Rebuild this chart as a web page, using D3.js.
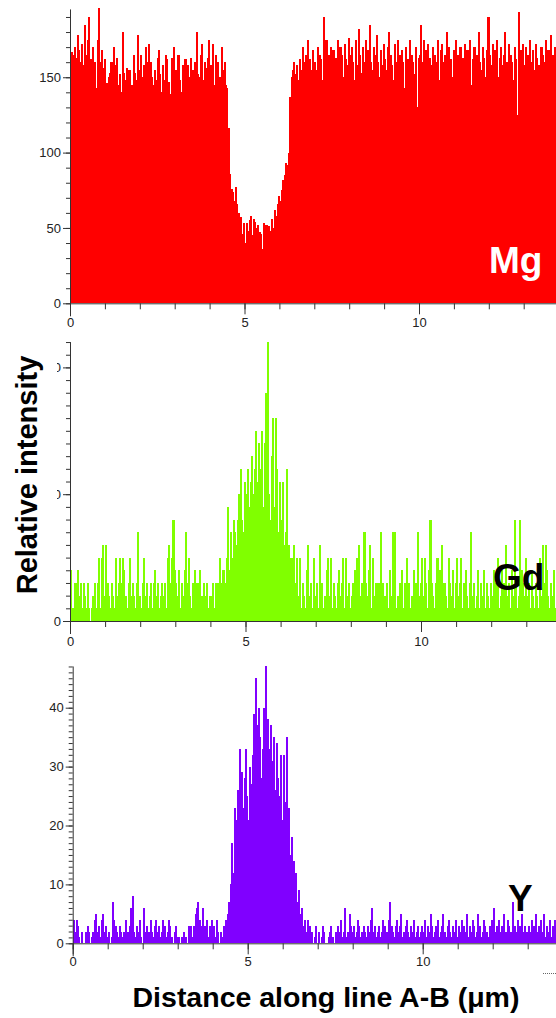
<!DOCTYPE html>
<html>
<head>
<meta charset="utf-8">
<script src="https://cdn.jsdelivr.net/npm/d3@7"></script>
<style>
  body { margin: 0; background: #fff; }
  svg { display: block; font-family: Arial, "Liberation Sans", sans-serif; }
  .tick text { fill: #222; font-size: 13px; }
  .tick line, .domain { stroke: #333; }
</style>
</head>
<body>
<div id="chart"></div>
<script>
// distance step between readings (um)
const step = 0.04;

// Mg counts, 25 readings per um
const mgValues = [
  148,167,165,170,163,178,168,160,172,158,185,165,175,190,162,155,170,160,143,175,196,160,168,156,162,
  142,146,150,153,160,148,170,158,163,145,152,140,180,153,148,156,155,155,138,145,165,153,148,178,155,
  165,150,158,147,170,160,172,160,150,145,155,148,163,168,152,140,158,148,165,162,147,139,163,160,170,
  155,150,165,148,140,158,153,162,156,158,150,163,155,148,160,180,152,150,165,172,148,160,156,163,175,
  158,150,172,145,165,160,133,150,170,155,160,145,143,116,86,76,74,68,77,66,60,55,57,46,53,
  40,53,48,55,58,45,56,54,50,52,47,46,36,53,49,52,50,51,48,56,50,62,58,66,71,
  68,75,82,85,93,92,100,137,150,155,160,152,158,148,162,155,170,160,165,118,175,162,155,168,158,
  160,155,170,165,162,148,190,160,175,158,165,170,150,168,160,163,175,155,170,165,150,172,162,158,176,
  165,170,160,148,175,158,182,165,153,170,160,175,142,168,185,160,155,170,165,178,160,150,168,158,172,
  162,155,170,180,165,158,148,172,160,175,155,165,168,160,143,170,162,158,175,165,160,152,170,130,163,
  165,185,160,175,168,150,172,163,158,170,155,165,160,175,148,168,172,160,165,180,158,170,162,150,168,
  160,175,165,158,170,148,163,172,155,168,160,175,145,162,170,158,165,180,160,155,170,163,150,168,190,
  165,158,172,160,168,175,150,163,170,158,165,180,160,155,172,165,160,148,170,162,125,193,168,160,172,
  158,170,165,150,175,160,168,155,172,163,158,140,170,165,160,175,152,168,160,178,165,155,170,162,160
];

// Gd counts
const gdValues = [
  4,1,1,3,3,4,2,3,1,3,2,1,3,1,0,1,2,3,1,3,5,1,5,6,2,
  6,3,2,1,3,2,1,5,2,3,5,3,5,4,2,1,3,5,2,3,2,1,3,7,2,
  1,3,5,2,3,1,2,3,1,3,4,2,3,1,2,3,2,3,1,5,6,3,5,8,4,
  3,2,4,1,3,2,4,7,3,5,2,1,3,4,2,3,3,4,2,1,3,2,3,1,2,
  2,3,1,3,2,3,5,3,4,4,3,5,9,4,7,5,8,7,6,8,10,12,8,7,11,
  10,12,9,11,13,10,12,15,11,14,12,15,9,14,18,22,10,8,13,16,9,16,12,7,11,
  8,11,6,7,12,6,2,5,1,6,3,5,2,5,1,3,2,1,4,6,2,3,1,5,2,
  3,1,6,2,3,1,2,4,5,2,5,1,3,2,1,3,4,2,3,5,1,5,2,3,1,
  2,3,4,1,5,6,2,3,1,7,3,2,4,6,1,5,2,3,1,3,2,7,3,1,2,
  3,1,4,2,7,3,7,1,2,3,2,4,1,3,5,2,3,1,2,4,1,3,7,2,3,
  5,2,5,3,1,4,8,3,2,1,3,5,2,4,6,1,3,2,1,5,3,2,4,1,3,
  5,2,3,5,1,3,4,2,1,3,7,2,3,1,2,4,1,3,2,4,1,3,2,1,3,
  2,4,1,3,5,1,2,4,3,1,6,2,3,1,4,2,8,3,1,2,8,4,3,2,5,
  2,3,1,4,2,1,3,2,1,5,2,6,3,6,4,2,1,3,2,4,1,3,2,1,2
];

// Y counts
const yValues = [
  4,2,4,3,1,0,2,0,0,2,3,2,0,1,2,4,5,2,3,1,4,5,2,3,1,
  2,0,1,7,4,3,2,1,3,2,1,2,4,1,2,3,6,8,2,1,3,2,4,1,0,
  6,2,3,1,2,4,2,1,3,4,2,3,1,2,4,3,1,2,4,3,1,0,2,3,1,
  1,0,1,1,2,1,0,3,2,3,1,3,5,6,7,4,3,6,2,3,4,1,3,2,4,
  3,1,4,2,0,2,1,3,2,4,5,7,10,17,12,23,21,26,22,33,29,23,28,33,25,
  21,30,27,32,39,45,37,40,35,28,33,40,47,33,38,33,37,31,35,26,34,28,25,32,21,
  32,24,35,20,23,15,18,14,10,12,7,9,5,6,3,4,2,4,1,3,2,0,1,3,0,
  2,0,1,3,2,0,0,1,2,3,1,0,2,1,3,2,4,1,2,6,1,2,5,3,2,
  3,1,2,4,3,1,2,3,2,1,3,2,4,6,2,3,1,2,3,1,2,4,3,1,2,
  4,7,3,2,1,3,4,2,3,5,1,2,3,4,2,1,3,2,4,1,2,3,1,2,3,
  2,4,1,3,2,5,3,1,2,3,4,1,2,3,5,2,1,3,4,2,1,3,2,4,1,
  3,2,4,1,3,2,5,1,3,2,4,3,1,2,5,3,1,2,4,3,2,1,3,2,4,
  6,2,3,1,4,2,3,5,1,2,4,3,2,1,7,3,2,4,1,3,5,2,3,1,2,
  3,2,4,1,3,5,2,3,1,4,2,5,1,3,2,4,1,3,2,4,1,2,3,1,2
];

const xLabelTicks = [0, 5, 10];
const xMinorTicks = [0, 1, 2, 3, 4, 5, 6, 7, 8, 9, 10, 11, 12, 13, 14];
const mgYTicks = [0, 50, 100, 150];
const gdYTicks = [0, 10, 20];
const yYTicks = [0, 10, 20, 30, 40];

const W = 556, H = 1018;
const svg = d3.select("#chart").append("svg")
    .attr("width", W)
    .attr("height", H);

const panels = [
    { id: "mg", values: mgValues, color: "#ff0000", name: "Mg", nameColor: "#ffffff", nameX: 489, nameY: 273,
      x0: 70, unit: 34.9, y0: 303.3, yMax: 195, yPx: 1.507, yTicks: mgYTicks, yMinor: 10,
      labelY: 327, clipTop: 0, clipBottom: 329 },
    { id: "gd", values: gdValues, color: "#80ff00", name: "Gd", nameColor: "#000000", nameX: 493, nameY: 590,
      x0: 70, unit: 35.1, y0: 621, yMax: 22, yPx: 12.68, yTicks: gdYTicks, yMinor: 1,
      labelY: 646, clipTop: 330, clipBottom: 660 },
    { id: "y", values: yValues, color: "#8000ff", name: "Y", nameColor: "#000000", nameX: 508, nameY: 911,
      x0: 72.7, unit: 35, y0: 943.3, yMax: 47, yPx: 5.89, yTicks: yYTicks, yMinor: 1,
      labelY: 966, clipTop: 660, clipBottom: 1018 }
];

panels.forEach(p => {
    const x = d3.scaleLinear().domain([0, 14]).range([p.x0, p.x0 + 14 * p.unit]);
    const y = d3.scaleLinear().domain([0, p.yMax]).range([p.y0, p.y0 - p.yMax * p.yPx]);
    const bw = x(step) - x(0);

    svg.append("clipPath").attr("id", "clip-" + p.id)
        .append("rect")
        .attr("x", 0).attr("y", p.clipTop)
        .attr("width", W).attr("height", p.clipBottom - p.clipTop);
    svg.append("clipPath").attr("id", "plot-" + p.id)
        .append("rect")
        .attr("x", p.x0).attr("y", y(p.yMax) - 2)
        .attr("width", W - p.x0).attr("height", p.y0 - y(p.yMax) + 2);

    const g = svg.append("g").attr("clip-path", `url(#clip-${p.id})`);

    // bars, pixel-snapped and slightly overlapped so no hairline gaps show
    g.append("g").attr("clip-path", `url(#plot-${p.id})`)
        .attr("shape-rendering", "crispEdges")
        .selectAll("rect")
        .data(p.values)
        .enter()
        .append("rect")
        .attr("x", (d, i) => x(i * step))
        .attr("y", d => y(d))
        .attr("width", bw + 0.7)
        .attr("height", d => y(0) - y(d))
        .attr("fill", p.color);

    // x axis: minor then labelled ticks
    const xMinor = g.append("g")
        .attr("transform", `translate(0,${p.y0})`)
        .call(d3.axisBottom(x).tickValues(xMinorTicks.filter(t => x(t) < W)).tickSize(6).tickFormat(""));
    xMinor.select(".domain").remove();

    const xAxis = g.append("g")
        .attr("transform", `translate(0,${p.y0})`)
        .call(d3.axisBottom(x).tickValues(xLabelTicks).tickSize(11).tickPadding(3).tickFormat(d3.format("d")));
    xAxis.select(".domain").attr("d", `M${p.x0},0.5H${W}`);
    xAxis.selectAll(".tick text").attr("y", null).attr("dy", null)
        .attr("transform", `translate(0,${p.labelY - p.y0})`)
        .style("font-size", "13px");

    // y axis
    const yMinorTicks = d3.range(0, p.yMax + 0.001, p.yMinor);
    g.append("g")
        .attr("transform", `translate(${p.x0},0)`)
        .call(d3.axisLeft(y).tickValues(yMinorTicks).tickSize(4).tickFormat(""))
        .select(".domain").remove();

    const yAxis = g.append("g")
        .attr("transform", `translate(${p.x0},0)`)
        .call(d3.axisLeft(y).tickValues(p.yTicks).tickSize(7).tickPadding(2).tickFormat(d3.format("d")));
    yAxis.select(".domain").attr("d", `M0.5,${y(p.yMax)}V${p.y0 + 13}`);

    // element name
    g.append("text")
        .attr("x", p.nameX)
        .attr("y", p.nameY)
        .attr("fill", p.nameColor)
        .style("font-size", "37px")
        .style("font-weight", "bold")
        .text(p.name);
});

// white box behind the shared y title hides the Gd tick labels
svg.append("rect")
    .attr("x", 0).attr("y", 340)
    .attr("width", 57).attr("height", 266)
    .attr("fill", "#fff");

svg.append("text")
    .attr("transform", "translate(37,475) rotate(-90)")
    .attr("text-anchor", "middle")
    .style("font-size", "29px")
    .style("font-weight", "bold")
    .text("Relative intensity");

svg.append("text")
    .attr("x", 326)
    .attr("y", 1007)
    .attr("text-anchor", "middle")
    .style("font-size", "28.5px")
    .style("font-weight", "bold")
    .text("Distance along line A-B (μm)");

// small dotted mark at the bottom right
svg.append("line")
    .attr("x1", 543).attr("x2", 556)
    .attr("y1", 973.5).attr("y2", 973.5)
    .attr("stroke", "#666")
    .attr("stroke-dasharray", "1,1");
</script>
</body>
</html>
